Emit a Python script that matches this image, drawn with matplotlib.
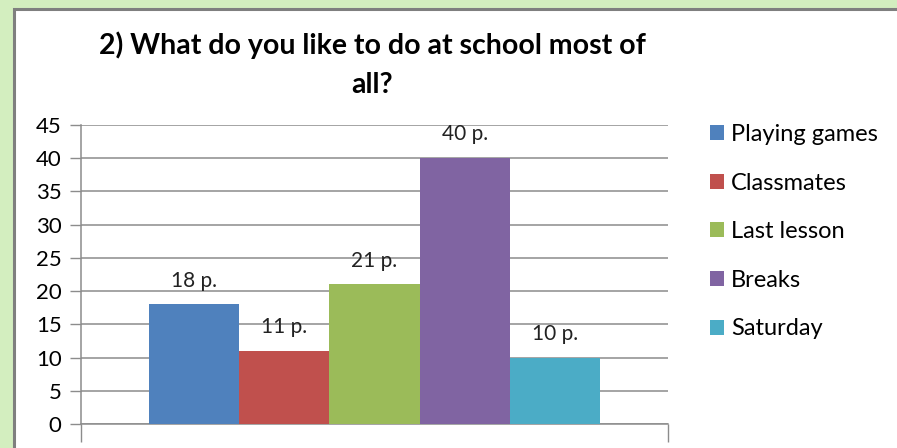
import matplotlib.pyplot as plt
from matplotlib.patches import Rectangle
import numpy as np

plt.rcParams['font.family'] = ['Lato', 'DejaVu Sans']

series = ['Playing games', 'Classmates', 'Last lesson', 'Breaks', 'Saturday']
values = [18, 11, 21, 40, 10]
labels = ['18 p.', '11 p.', '21 p.', '40 p.', '10 p.']
colors = ['#4F81BD', '#C0504D', '#9BBB59', '#8064A2', '#4BACC6']

fig = plt.figure(figsize=(8.97, 4.48), dpi=100)
fig.patch.set_facecolor('#d3eebf')

# white chart panel with grey border
panel = Rectangle((14 / 897, -0.05), 1.0, 1 - 9 / 448 + 0.05, transform=fig.transFigure,
                  facecolor='white', edgecolor='#7f7f7f', linewidth=2.2, zorder=-10)
fig.patches.append(panel)

ax = fig.add_axes([81 / 897, 1 - 424 / 448, (668 - 81) / 897, (424 - 125) / 448])
ax.set_facecolor('white')

w = 0.154
for i, (name, v, c) in enumerate(zip(series, values, colors)):
    ax.bar((i - 2) * w, v, width=w, color=c, label=name, zorder=3, linewidth=0)
    ax.annotate(labels[i], ((i - 2) * w, v), xytext=(0, 10), textcoords='offset points',
                ha='center', va='bottom', fontsize=15, color='#222222', zorder=1)

ax.set_xlim(-0.5, 0.5)
ax.set_ylim(0, 45)
ax.set_yticks(np.arange(0, 46, 5))
ax.yaxis.grid(True, color='#8c8c8c', linewidth=1.1, zorder=0)
ax.set_axisbelow(True)
ax.tick_params(axis='y', length=8, width=1, color='#8c8c8c', labelsize=16, pad=6)
ax.set_xticks([-0.5, 0.5])
ax.set_xticklabels([])
ax.tick_params(axis='x', length=13, width=1, color='#8c8c8c')
for s in ['top', 'right']:
    ax.spines[s].set_visible(False)
for s in ['left', 'bottom']:
    ax.spines[s].set_color('#8c8c8c')
    ax.spines[s].set_linewidth(1.1)

fig.text(372 / 897, 1 - 65 / 448, '2) What do you like to do at school most of\nall?',
         ha='center', va='center', fontsize=20.5, fontweight='bold', linespacing=1.6)

ax.legend(loc='upper left', bbox_to_anchor=(1.055, 1.035), frameon=False, fontsize=17,
          handlelength=0.6, handleheight=0.6, handletextpad=0.3, labelspacing=1.17,
          borderaxespad=0)

fig.savefig('out.png', dpi=100)
